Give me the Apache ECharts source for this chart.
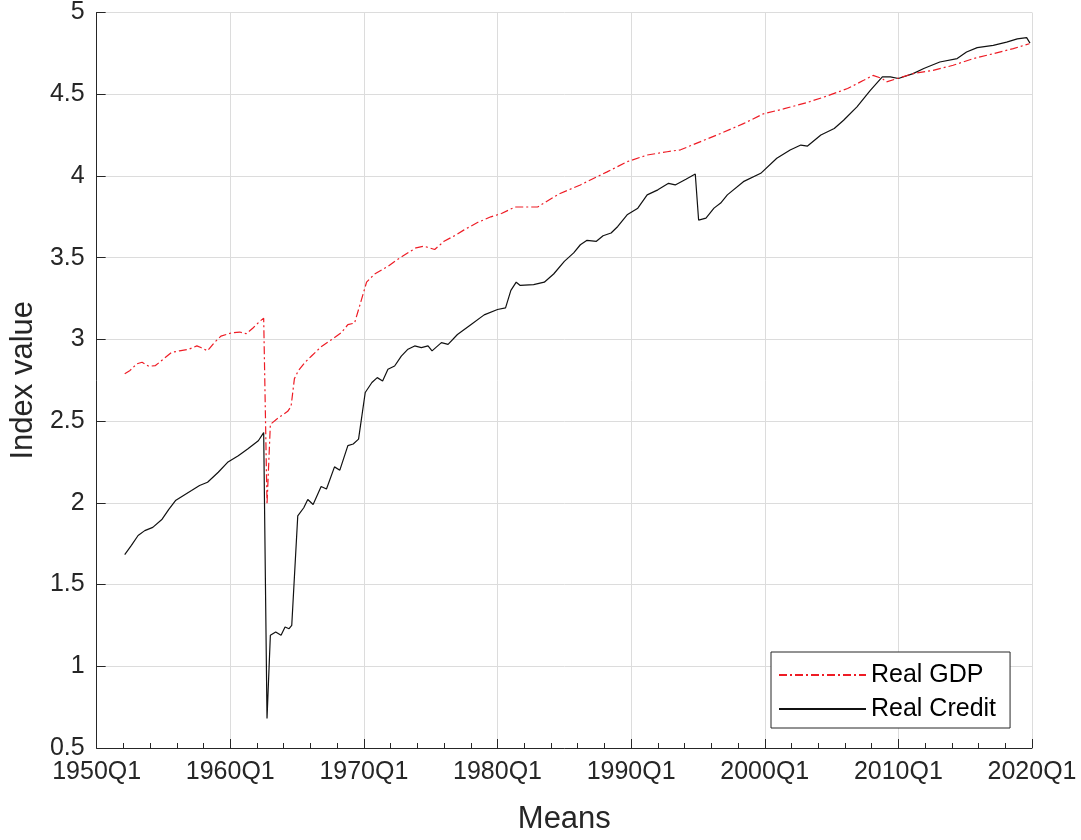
<!DOCTYPE html>
<html>
<head>
<meta charset="utf-8">
<script src="https://cdn.jsdelivr.net/npm/echarts@6/dist/echarts.min.js"></script>
<style>
  html, body { margin: 0; padding: 0; background: #ffffff; }
  #chart { width: 1081px; height: 840px; }
</style>
</head>
<body>
<div id="chart"></div>
<script>
// Quarterly index values, sampled as [decimal year, value]
const realGdp = [
  [1952.1, 2.79], [1952.5, 2.81], [1953.0, 2.85], [1953.4, 2.86], [1953.9, 2.835],
  [1954.4, 2.84], [1955.0, 2.88], [1955.6, 2.92], [1956.2, 2.93], [1956.9, 2.94],
  [1957.5, 2.96], [1957.8, 2.95], [1958.3, 2.93], [1958.8, 2.98], [1959.3, 3.02],
  [1960.1, 3.04], [1960.7, 3.045], [1961.2, 3.035], [1961.7, 3.07], [1962.2, 3.11],
  [1962.5, 3.13], [1962.75, 1.99], [1963.0, 2.48], [1963.6, 2.52], [1964.3, 2.56],
  [1964.55, 2.59], [1964.8, 2.76], [1965.1, 2.81], [1965.6, 2.86], [1966.1, 2.9],
  [1966.8, 2.955], [1967.6, 3.0], [1968.3, 3.04], [1968.8, 3.09], [1969.3, 3.1],
  [1969.7, 3.21], [1970.2, 3.35], [1970.8, 3.4], [1971.8, 3.447], [1972.5, 3.488],
  [1973.3, 3.53], [1973.9, 3.56], [1974.5, 3.57], [1975.3, 3.55], [1976.0, 3.6],
  [1976.8, 3.635], [1977.5, 3.67], [1978.5, 3.715], [1979.5, 3.75], [1980.3, 3.77],
  [1981.3, 3.81], [1982.3, 3.81], [1983.0, 3.81], [1983.7, 3.845], [1984.6, 3.89],
  [1986.2, 3.945], [1988.2, 4.025], [1989.7, 4.087], [1991.2, 4.128], [1992.7, 4.148],
  [1993.7, 4.16], [1995.2, 4.21], [1996.7, 4.26], [1998.4, 4.32], [1999.9, 4.38],
  [2001.4, 4.41], [2003.2, 4.45], [2004.7, 4.49], [2006.2, 4.535], [2007.4, 4.585],
  [2008.1, 4.615], [2008.8, 4.596], [2009.1, 4.575], [2009.9, 4.596], [2011.1, 4.626],
  [2012.6, 4.646], [2014.1, 4.677], [2015.6, 4.718], [2017.1, 4.748], [2018.6, 4.779],
  [2019.8, 4.809]
];

const realCredit = [
  [1952.1, 1.683], [1952.6, 1.74], [1953.1, 1.8], [1953.6, 1.83], [1954.2, 1.85],
  [1954.9, 1.9], [1955.4, 1.96], [1955.9, 2.014], [1956.5, 2.045], [1957.1, 2.075],
  [1957.7, 2.106], [1958.3, 2.126], [1959.1, 2.187], [1959.8, 2.248], [1960.6, 2.288],
  [1961.3, 2.329], [1962.1, 2.38], [1962.5, 2.43], [1962.75, 0.68], [1963.0, 1.19],
  [1963.4, 1.21], [1963.8, 1.19], [1964.1, 1.24], [1964.4, 1.23], [1964.6, 1.25],
  [1965.05, 1.92], [1965.5, 1.97], [1965.8, 2.02], [1966.2, 1.99], [1966.8, 2.1],
  [1967.2, 2.085], [1967.8, 2.22], [1968.2, 2.2], [1968.8, 2.35], [1969.2, 2.36],
  [1969.6, 2.39], [1970.1, 2.675], [1970.6, 2.736], [1971.0, 2.766], [1971.4, 2.746],
  [1971.8, 2.817], [1972.3, 2.837], [1972.8, 2.898], [1973.3, 2.94], [1973.8, 2.96],
  [1974.3, 2.95], [1974.8, 2.96], [1975.1, 2.93], [1975.8, 2.98], [1976.3, 2.97],
  [1977.0, 3.03], [1978.0, 3.09], [1979.0, 3.15], [1980.0, 3.183], [1980.6, 3.193],
  [1981.0, 3.3], [1981.4, 3.35], [1981.7, 3.33], [1982.7, 3.335], [1983.5, 3.35],
  [1984.2, 3.4], [1985.0, 3.477], [1985.7, 3.529], [1986.2, 3.579], [1986.7, 3.606],
  [1987.4, 3.6], [1987.9, 3.634], [1988.5, 3.651], [1989.0, 3.691], [1989.7, 3.762],
  [1990.5, 3.803], [1991.2, 3.884], [1992.0, 3.915], [1992.8, 3.955], [1993.3, 3.945],
  [1994.1, 3.98], [1994.8, 4.012], [1995.05, 3.73], [1995.6, 3.742], [1996.2, 3.803],
  [1996.7, 3.834], [1997.2, 3.884], [1998.4, 3.965], [1999.7, 4.016], [2000.9, 4.108],
  [2001.9, 4.159], [2002.7, 4.189], [2003.2, 4.183], [2004.2, 4.25], [2005.2, 4.29],
  [2005.9, 4.341], [2006.9, 4.423], [2007.9, 4.524], [2008.8, 4.606], [2009.4, 4.606],
  [2010.0, 4.596], [2011.1, 4.626], [2011.9, 4.657], [2013.1, 4.697], [2014.4, 4.718],
  [2015.1, 4.758], [2015.9, 4.785], [2017.1, 4.799], [2018.1, 4.819], [2018.9, 4.839],
  [2019.6, 4.846], [2019.85, 4.813]
];

const seriesNames = ['Real GDP', 'Real Credit'];
const xTitle = 'Means';
const yTitle = 'Index value';

const FONT = '"Liberation Sans", Arial, Helvetica, sans-serif';
const INK = '#262626';
const GRID = '#dcdcdc';
const GDP_RED = '#ee1c25';
const CREDIT_BLACK = '#111111';

const chart = echarts.init(document.getElementById('chart'), null, { renderer: 'canvas' });

chart.setOption({
  animation: false,
  backgroundColor: '#ffffff',
  textStyle: { fontFamily: FONT },
  grid: { left: 95, right: 49, top: 12, bottom: 90, containLabel: false },
  legend: {
    orient: 'vertical',
    left: 771,
    top: 652,
    padding: [9, 14, 5, 7],
    itemWidth: 87,
    itemHeight: 14,
    itemGap: 6,
    backgroundColor: '#ffffff',
    borderColor: INK,
    borderWidth: 1,
    borderRadius: 0,
    // line-only keys: hide the marker drawn at the middle of each key
    itemStyle: { opacity: 0 },
    textStyle: { fontFamily: FONT, fontSize: 25, color: '#000000', lineHeight: 28 },
    data: seriesNames
  },
  xAxis: {
    type: 'value',
    min: 1950,
    max: 2020,
    interval: 10,
    name: xTitle,
    nameLocation: 'middle',
    nameGap: 56,
    nameTextStyle: { fontFamily: FONT, fontSize: 31, color: INK },
    axisLine: { show: true, onZero: false, lineStyle: { color: INK, width: 1 } },
    axisTick: { show: true, inside: true, length: 9, lineStyle: { color: INK } },
    minorTick: { show: true, splitNumber: 5, length: 5, lineStyle: { color: INK } },
    axisLabel: {
      margin: 12,
      fontFamily: FONT,
      fontSize: 25,
      color: INK,
      formatter: v => v + 'Q1'
    },
    splitLine: { show: true, lineStyle: { color: GRID, width: 1 } }
  },
  yAxis: {
    type: 'value',
    min: 0.5,
    max: 5,
    interval: 0.5,
    name: yTitle,
    nameLocation: 'middle',
    nameGap: 55,
    nameTextStyle: { fontFamily: FONT, fontSize: 31, color: INK },
    axisLine: { show: true, onZero: false, lineStyle: { color: INK, width: 1 } },
    axisTick: { show: true, inside: true, length: 9, lineStyle: { color: INK } },
    axisLabel: { margin: 12, fontFamily: FONT, fontSize: 25, color: INK },
    splitLine: { show: true, lineStyle: { color: GRID, width: 1 } }
  },
  series: [
    {
      name: seriesNames[0],
      type: 'line',
      data: realGdp,
      symbol: 'none',
      showSymbol: false,
      z: 3,
      lineStyle: { color: GDP_RED, width: 1.2, type: [8, 3, 2, 3] },
      itemStyle: { color: GDP_RED }
    },
    {
      name: seriesNames[1],
      type: 'line',
      data: realCredit,
      symbol: 'none',
      showSymbol: false,
      z: 2,
      lineStyle: { color: CREDIT_BLACK, width: 1.2, type: 'solid' },
      itemStyle: { color: CREDIT_BLACK }
    }
  ]
});
</script>
</body>
</html>
